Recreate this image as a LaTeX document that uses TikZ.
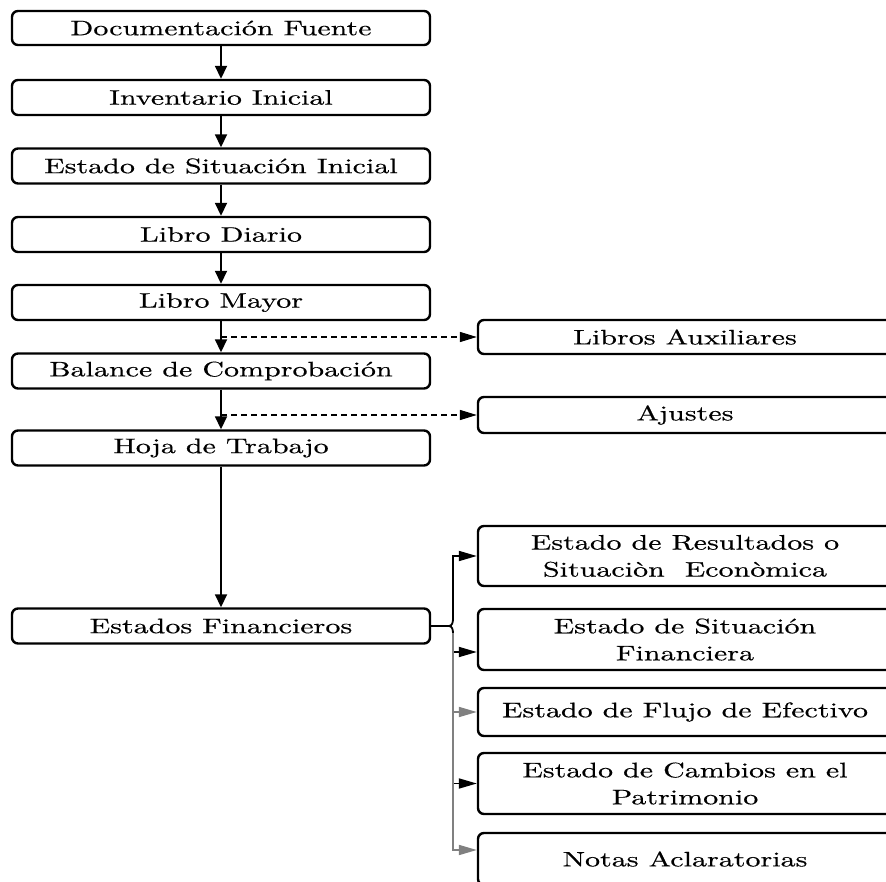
\documentclass[tikz,border=0pt]{standalone}
\usepackage{fontspec}
\setmainfont{lmroman10-regular}[Extension=.otf, FakeStretch=1.43, FakeBold=0.4]
\usepackage{xcolor}
\usetikzlibrary{arrows.meta,calc}
\definecolor{ink}{HTML}{000000}
\definecolor{branchgray}{HTML}{808080}

\begin{document}
\begin{tikzpicture}[x=1pt,y=-1pt,font=\fontsize{21}{27}\selectfont,
  stepbox/.style={draw=ink,line width=2.4pt,rounded corners=6pt,inner sep=0pt,align=center,text=ink},
  leftbox/.style={stepbox,minimum width=418pt,minimum height=35pt},
  rightbox/.style={stepbox,minimum width=414pt},
  flow/.style={-{Triangle[length=13pt,width=12pt]},line width=1.8pt,draw=ink},
  side/.style={-{Triangle[length=17pt,width=10pt]},line width=1.4pt,dash pattern=on 6pt off 4pt,draw=ink},
  branch/.style={-{Triangle[length=18pt,width=10pt]},line width=1.8pt}]
\useasboundingbox (0,0) rectangle (886,882);
% --- main column -----------------------------------------------------
\node[leftbox,minimum height=34pt] (doc) at (221,28) {Documentación Fuente};
\node[leftbox] (inv) at (221,97.5) {Inventario Inicial};
\node[leftbox] (sit) at (221,166) {Estado de Situación Inicial};
\node[leftbox] (diario) at (221,234.5) {Libro Diario};
\node[leftbox] (mayor) at (221,302.5) {Libro Mayor};
\node[leftbox] (balance) at (221,371) {Balance de Comprobación};
\node[leftbox] (hoja) at (221,448) {Hoja de Trabajo};
\node[leftbox] (fin) at (221,626) {Estados Financieros};
\foreach \a/\b in {doc/inv, inv/sit, sit/diario, diario/mayor, mayor/balance, balance/hoja, hoja/fin} {
  \draw[flow] (\a) -- (\b);
}
% --- side boxes (dashed) ---------------------------------------------
\node[rightbox,minimum height=34pt] (libaux) at (685,337) {Libros Auxiliares};
\node[rightbox,minimum height=36pt] (ajustes) at (685,415) {Ajustes};
\draw[side] (libaux.west -| mayor.south) -- (libaux.west);
\draw[side] (ajustes.west -| balance.south) -- (ajustes.west);
% --- financial statements --------------------------------------------
\node[rightbox,minimum height=60pt] (resA) at (685,556) {Estado de Resultados o\\Situaciòn \ Econòmica};
\node[rightbox,minimum height=61pt] (resB) at (685,639.5) {Estado de Situación\\Financiera};
\node[rightbox,minimum height=48pt] (resC) at (685,712) {Estado de Flujo de Efectivo};
\node[rightbox,minimum height=61pt] (resD) at (685,783.5) {Estado de Cambios en el\\Patrimonio};
\node[rightbox,minimum height=52pt] (resE) at (685,859) {Notas Aclaratorias};
% brace
\coordinate (tip) at (449,626);
\coordinate (busup) at (453,619);
\coordinate (busdn) at (453,633);
\draw[line width=1.8pt,ink] (fin.east) -- (tip);
\draw[branch,ink] (tip) to[out=0,in=-90] (busup) |- (resA.west);
\draw[branch,ink] (tip) to[out=0,in=90] (busdn) |- ([yshift=-12.5pt]resB.west);
\draw[branch,ink] (busdn) |- (resD.west);
\draw[branch,branchgray] (busdn) |- (resC.west);
\draw[branch,branchgray] (busdn) |- ([yshift=9pt]resE.west);
\end{tikzpicture}
\end{document}
